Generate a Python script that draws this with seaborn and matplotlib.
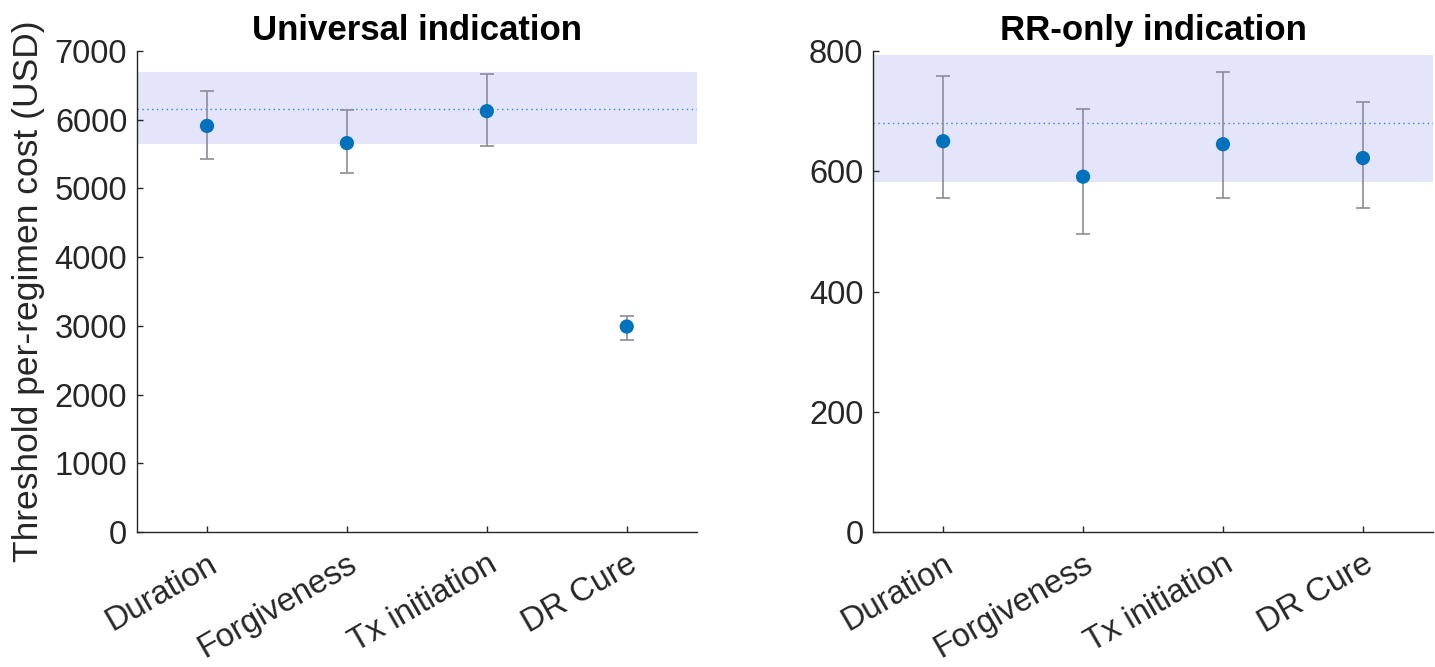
import numpy as np
import pandas as pd
import matplotlib
matplotlib.use("Agg")
import matplotlib.pyplot as plt
import seaborn as sns

# ---- data ----
categories = ["Duration", "Forgiveness", "Tx initiation", "DR Cure"]

universal_mid = [5910, 5660, 6125, 2990]
universal_low = [5430, 5225, 5620, 2800]
universal_high = [6420, 6140, 6665, 3145]
universal_band = [5650, 6695]
universal_ref = 6155

rr_mid = [650, 591, 645, 622]
rr_low = [555, 496, 555, 539]
rr_high = [758, 703, 765, 715]
rr_band = [582, 793]
rr_ref = 680

sns.set_theme(style="white")
plt.rcParams["font.family"] = ["Liberation Sans", "DejaVu Sans"]

POINT_COLOR = "#0072BD"
BAR_COLOR = "#8c8c9c"
BAND_COLOR = "#e4e4fa"
REF_COLOR = "#3f7fe0"
AXIS_COLOR = "#262626"
FS = 23.5

fig = plt.figure(figsize=(14.35, 6.67), dpi=100)
ax1 = fig.add_axes([0.0955, 0.2024, 0.390, 0.7211])
ax2 = fig.add_axes([0.6085, 0.2024, 0.390, 0.7211])


def draw_panel(ax, mid, low, high, band, ref, ylim, yticks, title):
    df = pd.DataFrame({"category": categories, "value": mid})
    pos = np.arange(len(categories))
    ax.axhspan(band[0], band[1], color=BAND_COLOR, zorder=0, lw=0)
    ax.axhline(ref, color=REF_COLOR, ls=(0, (1, 2.5)), lw=1.0, zorder=1)
    yerr = [np.array(mid) - np.array(low), np.array(high) - np.array(mid)]
    ax.errorbar(pos, mid, yerr=yerr, fmt="none", ecolor=BAR_COLOR,
                elinewidth=1.2, capsize=4.7, capthick=1.2, zorder=2)
    sns.scatterplot(data=df, x=pos, y="value", ax=ax, color=POINT_COLOR,
                    s=105, edgecolor="none", zorder=3, legend=False)
    ax.set_xlim(-0.5, len(categories) - 0.5)
    ax.set_ylim(*ylim)
    ax.set_yticks(yticks)
    ax.set_xticks(pos)
    ax.set_xticklabels(categories, rotation=30, ha="right",
                       rotation_mode="anchor")
    ax.set_xlabel("")
    ax.set_ylabel("")
    ax.set_title(title, fontsize=25, fontweight="bold", pad=8, color="black")
    for side in ["top", "right"]:
        ax.spines[side].set_visible(False)
    for side in ["left", "bottom"]:
        ax.spines[side].set_color(AXIS_COLOR)
        ax.spines[side].set_linewidth(1.0)
    ax.tick_params(axis="both", direction="in", length=4, width=1.0,
                   colors=AXIS_COLOR, labelsize=FS, labelcolor=AXIS_COLOR,
                   left=True, bottom=True)
    ax.tick_params(axis="y", pad=7)
    ax.tick_params(axis="x", pad=12)


draw_panel(ax1, universal_mid, universal_low, universal_high,
           universal_band, universal_ref, (0, 7000),
           range(0, 7001, 1000), "Universal indication")
draw_panel(ax2, rr_mid, rr_low, rr_high, rr_band, rr_ref, (0, 800),
           range(0, 801, 200), "RR-only indication")

ax1.set_ylabel("Threshold per-regimen cost (USD)", fontsize=25.5,
               color=AXIS_COLOR, labelpad=7)

fig.savefig("out.png", dpi=100)
